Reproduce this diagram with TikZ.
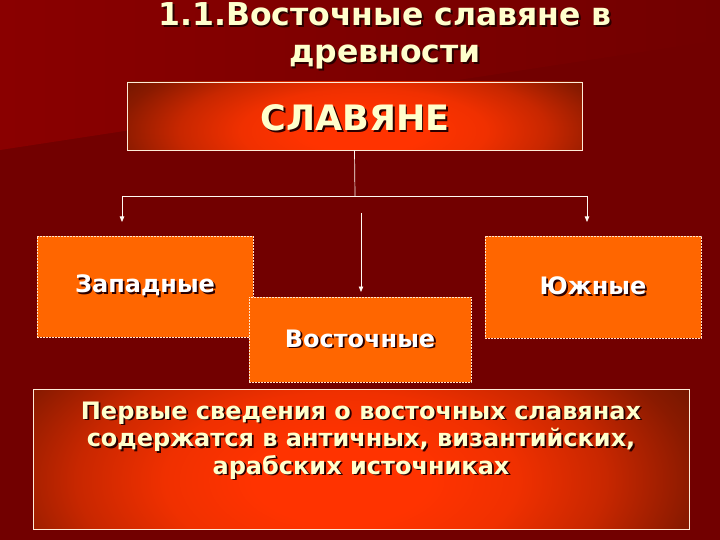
\documentclass[tikz,border=0pt]{standalone}
\usepackage{fontspec}
\setmainfont{DejaVu Sans}
\usetikzlibrary{arrows.meta}
\definecolor{bgdark}{HTML}{720000}
\definecolor{bgtop}{HTML}{8A0000}
\definecolor{cream}{HTML}{FFFFCC}
\definecolor{shadowc}{HTML}{2A0000}
\definecolor{boxorange}{HTML}{FF6600}
\definecolor{glowin}{HTML}{FF3300}
\definecolor{glowa}{HTML}{F03000}
\definecolor{glowmid}{HTML}{C82700}
\definecolor{glowdim}{HTML}{8A1A00}
\definecolor{glowout}{HTML}{6E1600}
\pgfdeclareradialshading{glow}{\pgfpoint{0bp}{0bp}}{color(0bp)=(glowin); color(6bp)=(glowin); color(12bp)=(glowa); color(18bp)=(glowmid); color(24bp)=(glowdim); color(28bp)=(glowout); color(50bp)=(glowout)}
\newcommand\shtx[2]{\leavevmode\rlap{\kern1.8pt\raisebox{-1.8pt}{\color{shadowc}#2}}{\color{#1}#2}}
\tikzset{
  glowbox/.style={draw=white!85!orange, line width=0.6pt, fill=glowout},
  glowrect/.style n args={4}{path picture={\shade[shading=glow]
      ([shift={(#1,#2)}]path picture bounding box.center) rectangle
      ([shift={(#3,#4)}]path picture bounding box.center);}},
  orbox/.style={fill=boxorange, draw=white!80!orange, dash pattern=on 2pt off 1pt, line width=0.5pt},
  conn/.style={draw=white!95!orange, line width=0.7pt},
  arr/.style={conn, -{Triangle[width=4.5pt,length=5.5pt]}},
  boxtext/.style={font=\bfseries\fontsize{24}{28}\selectfont}
}
\begin{document}
\begin{tikzpicture}[x=1pt,y=-1pt]
\useasboundingbox (0,0) rectangle (720,540);
\fill[bgdark] (0,0) rectangle (720,540);
\shade[left color=bgtop, right color=bgdark] (0,0) -- (720,0) -- (720,40) -- (0,150) -- cycle;

% title
\node[align=center, font=\bfseries\fontsize{31.5}{37}\selectfont] (title) at (385,37)
  {\shtx{cream}{1.1.Восточные славяне в}\\ \shtx{cream}{древности}};

% top box
\node[glowbox, minimum width=455pt, minimum height=68pt,
      glowrect={-245.9}{-73}{264.1}{103}] (slav) at (354.5,116) {};
\node[font=\bfseries\fontsize{35}{40}\selectfont] (slavtext) at (355,119) {\shtx{cream}{СЛАВЯНЕ}};

% orange boxes
\node[orbox, minimum width=216pt, minimum height=101pt, boxtext] (west) at (145,286.5) {\shtx{white}{Западные}};
\node[orbox, minimum width=222pt, minimum height=85pt, boxtext] (east) at (360,339.5) {\shtx{white}{Восточные}};
\node[orbox, minimum width=216pt, minimum height=102pt, boxtext] (south) at (593,287) {\shtx{white}{Южные}};

% bottom box
\node[glowbox, minimum width=656pt, minimum height=140pt,
      glowrect={-387}{-161}{347}{203}] (info) at (361,459) {};
\node[align=center, anchor=north, font=\bfseries\fontsize{24}{27.5}\selectfont] (infotext) at (361,398)
  {\shtx{cream}{Первые сведения о восточных славянах}\\
   \shtx{cream}{содержатся в античных, византийских,}\\
   \shtx{cream}{арабских источниках}};

% connectors
\coordinate (hub) at (355,196);
\coordinate (hl) at (122,196);
\coordinate (hr) at (587,196);
\coordinate (ml) at (122,222);
\coordinate (mr) at (587,222);
\coordinate (mt) at (361,213);
\coordinate (mb) at (361,292);
\draw[conn] (slav.south) -- (hub);
\draw[conn] (hl) -- (hr);
\draw[arr] (hl) -- (ml);
\draw[arr] (hr) -- (mr);
\draw[arr] (mt) -- (mb);
\end{tikzpicture}
\end{document}
